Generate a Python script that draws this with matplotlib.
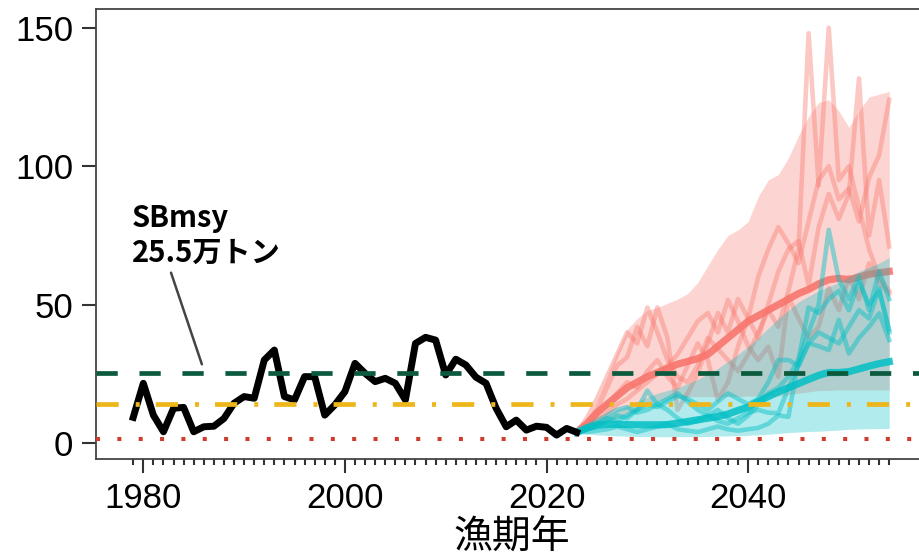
import numpy as np
import matplotlib.pyplot as plt
from matplotlib.ticker import FixedLocator

# 親魚量の推移 (万トン)
years_hist = np.arange(1979, 2024)
sb_hist = [9.3, 21.6, 10.1, 4.1, 12.6, 12.9, 4.1, 5.9, 6.1, 8.9, 14.4, 16.8, 16.2,
           30.0, 33.6, 16.8, 15.6, 24.0, 24.0, 10.1, 13.8, 18.6, 28.8, 25.2, 22.2,
           23.4, 21.6, 15.6, 36.0, 38.2, 37.2, 24.6, 30.3, 28.2, 23.8, 21.6, 12.6,
           5.9, 8.3, 4.7, 6.1, 5.7, 2.9, 5.3, 3.9]

# 将来予測 (2023-2054)
years_proj = np.arange(2023, 2055)

red_med = [3.9, 7, 11, 14, 17, 20, 22, 24, 25.5, 27, 28.5, 29.5, 30.5, 32, 35, 38,
           41, 44, 46, 48, 50, 52, 54, 55.5, 57.5, 59, 59.5, 59, 60, 61, 61.5, 62]
red_lo = [3.9, 4.8, 6, 7.5, 9, 10.5, 12, 13.5, 15, 16, 16.5, 16.8, 16.8, 16.8, 16.8, 16.8,
          16.8, 17, 17, 17, 17, 17.5, 18, 18.5, 19, 19, 19.2, 19.2, 19.2, 19.2, 19.2, 19.2]
red_hi = [3.9, 8, 15, 24, 33, 41, 45, 48, 49, 50.5, 52, 54, 58, 64, 70, 75,
          77, 80, 89, 95, 97, 103, 111, 118, 123, 124, 120, 114, 120, 125, 126, 127]
red_runs = [
    [3.9, 9, 16, 24, 32, 40, 36, 49, 40, 30, 24, 22, 28, 38, 34, 30,
     26, 32, 40, 48, 42, 55, 70, 148, 93, 150, 95, 100, 85, 70, 60, 55],
    [3.9, 7, 12, 20, 28, 31, 42, 35, 49, 38, 12, 18, 25, 36, 47, 40,
     52, 45, 38, 50, 62, 70, 73, 57, 78, 90, 81, 90, 131.7, 75, 95, 71],
    [3.9, 6, 10, 14, 18, 22, 20, 26, 30, 24, 20, 28, 36, 30, 15.6, 22,
     35, 45, 60, 70, 78, 72, 65, 80, 95, 100, 88, 92, 80, 96, 104, 124],
    [3.9, 5, 8, 11, 14, 16, 19, 22, 25, 28, 32, 38, 44, 47, 40, 51.7,
     44, 35, 30, 34.8, 24, 52.9, 45, 38, 42, 56, 48, 60, 52, 65, 58, 54],
]

teal_med = [3.9, 5.5, 6.5, 6.8, 6.8, 6.7, 6.6, 6.6, 6.6, 6.7, 7.2, 7.8, 8.4, 9.0, 9.6, 10.5,
            11.8, 13.0, 15.0, 16.8, 18.5, 20.0, 21.5, 23.0, 24.5, 25.5, 25.5, 25.8, 26.8, 27.8, 28.7, 29.4]
teal_lo = [3.9, 3.3, 3.0, 2.8, 2.6, 2.5, 2.4, 2.3, 2.3, 2.3, 2.3, 2.3, 2.3, 2.4, 2.5, 2.6,
           2.7, 2.8, 3.0, 3.2, 3.5, 3.8, 4.0, 4.2, 4.3, 4.5, 4.7, 5.0, 5.1, 5.2, 5.3, 5.3]
teal_hi = [3.9, 6, 8, 10, 12, 13.5, 15, 16.5, 18, 19, 20, 21.5, 23, 25, 27, 29.5,
           32, 35, 38, 41.5, 45, 48, 51, 53, 55, 56.5, 58, 60, 62, 63.5, 65, 67]
teal_runs = [
    [3.9, 5, 6, 8, 10, 9, 12, 19, 14, 12, 9, 7, 8, 10, 12, 9,
     7, 10, 14, 18, 20, 24, 30, 40, 50, 77, 59, 52, 60, 48, 62, 52],
    [3.9, 4, 4.5, 5, 6, 5, 4, 5, 6, 7, 5, 4.5, 4, 5, 6, 5,
     4.5, 5, 5.5, 7, 10, 9.5, 30, 49, 47, 52, 55, 48, 58, 50, 55, 41],
    [3.9, 6, 8, 10, 12, 13, 11, 12, 14, 16, 18, 15, 12, 10, 8, 7,
     9, 11, 12, 11, 10.8, 20, 28, 36, 35, 33.6, 44.5, 32.4, 38, 42, 46.9, 37.2],
    [3.9, 5, 7, 9, 8, 10, 12, 14, 13, 15, 17, 16, 14, 12, 15, 18,
     16, 14, 16, 22, 30, 30, 28, 36, 40, 38, 36, 42, 48, 45, 56, 40],
]

# 管理基準値
sb_msy = 25.5
sb_limit = 14.2
sb_ban = 1.4

RED = '#F8766D'
TEAL = '#00BFC4'

plt.rcParams['font.family'] = ['Liberation Sans', 'DejaVu Sans']

fig = plt.figure(figsize=(9.19, 5.58), dpi=100)
ax = fig.add_axes([0.1045, 0.1774, 0.9038, 0.8065])

# 漁獲シナリオ1
ax.fill_between(years_proj, red_lo, red_hi, color=RED, alpha=0.3, lw=0, zorder=2)
for run in red_runs:
    ax.plot(years_proj, run, color=RED, alpha=0.4, lw=3.3, zorder=3)
ax.plot(years_proj, red_med, color=RED, alpha=0.9, lw=5.2, zorder=4)

# 漁獲シナリオ2
ax.fill_between(years_proj, teal_lo, teal_hi, color=TEAL, alpha=0.3, lw=0, zorder=5)
for run in teal_runs:
    ax.plot(years_proj, run, color=TEAL, alpha=0.45, lw=3.3, zorder=6)
ax.plot(years_proj, teal_med, color=TEAL, alpha=0.85, lw=5.2, zorder=7)

ax.plot(years_hist, sb_hist, color='black', lw=5, zorder=8, solid_joinstyle='round')

ax.axhline(sb_msy, color='#0B5A3E', lw=3.4, dashes=(4.5, 4.6), zorder=9)
ax.axhline(sb_limit, color='#EDB71C', lw=3.4, dashes=(4.7, 3.6, 0.85, 3.4), zorder=9)
ax.axhline(sb_ban, color='#D23B2B', lw=2.9, dashes=(1, 4.3), zorder=9)

ax.annotate('', xy=(1985.9, 27.5), xytext=(1982.66, 62.5),
            arrowprops=dict(arrowstyle='-', color='#444444', lw=1.8))
ax.text(1978.85, 65.5, 'SBmsy\n25.5万トン', family=['Noto Sans CJK JP', 'DejaVu Sans'],
        fontweight='bold', fontsize=21, va='baseline', ha='left', linespacing=1.2)

ax.set_xlim(1975.31, 2057.71)
ax.set_ylim(-5.74, 156.77)
ax.xaxis.set_major_locator(FixedLocator([1980, 2000, 2020, 2040]))
ax.xaxis.set_minor_locator(FixedLocator(np.arange(1979, 2055)))
ax.set_yticks([0, 50, 100, 150])

ax.tick_params(axis='both', which='major', labelsize=25, length=10, width=1.5,
               color='#333333', labelcolor='black', pad=6.5)
ax.tick_params(axis='x', which='minor', length=4.5, width=1.5, color='#333333')
for s in ax.spines.values():
    s.set_color('#444444')
    s.set_linewidth(1.3)

ax.set_xlabel('漁期年', family=['Noto Sans CJK JP', 'DejaVu Sans'], fontsize=28, labelpad=2)

fig.savefig('out.png', dpi=100)
